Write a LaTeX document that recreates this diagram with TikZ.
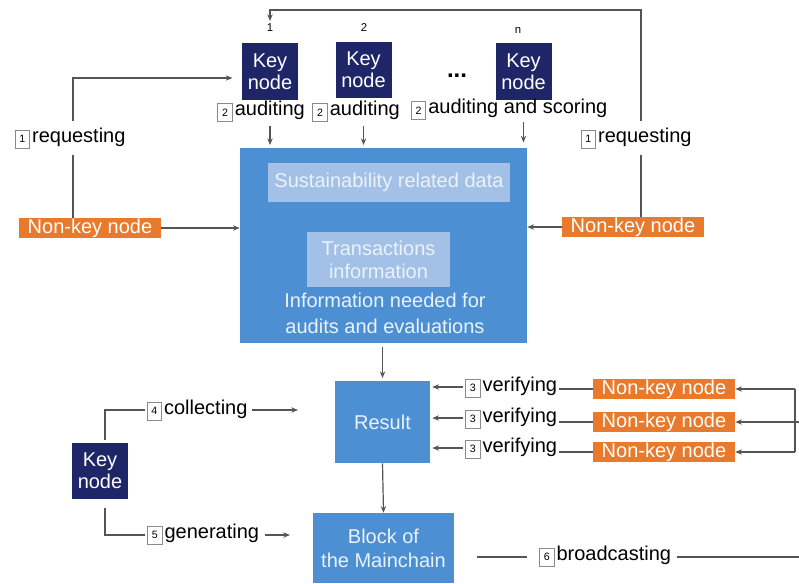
\documentclass[tikz,border=0pt]{standalone}
\usepackage{fontspec}
\setmainfont{Liberation Sans}
\usetikzlibrary{arrows.meta,calc}
\definecolor{navy}{HTML}{1E2668}
\definecolor{orng}{HTML}{E97A2C}
\definecolor{bblue}{HTML}{4C8FD3}
\definecolor{lightb}{HTML}{A3C1E6}
\definecolor{lighttext}{HTML}{EAF2FB}
\definecolor{linegray}{HTML}{555555}
\definecolor{boxgray}{HTML}{8A8A8A}
\newcommand\nbox[1]{\raisebox{-1.5pt}{\setlength{\fboxsep}{0pt}\setlength{\fboxrule}{0.6pt}\fcolorbox{boxgray}{white}{\parbox[c][12.5pt][c]{10.5pt}{\centering\fontsize{8}{9}\selectfont #1}}}\hspace{1.5pt}}
\begin{document}
\begin{tikzpicture}[x=0.75pt,y=-0.75pt,
  ln/.style={draw=linegray, line width=0.9pt},
  arr/.style={ln, -{Stealth[length=5pt,width=4pt]}},
  keynode/.style={fill=navy, text=white, font=\fontsize{15}{16.5}\selectfont, align=center, minimum width=42pt, minimum height=42.5pt, inner sep=0pt},
  nonkey/.style={fill=orng, text=white, font=\fontsize{15}{15}\selectfont, minimum width=106.5pt, minimum height=15pt, inner sep=0pt},
  bluebox/.style={fill=bblue, text=lighttext, align=center, inner sep=0pt},
  innerbox/.style={fill=lightb, text=lighttext, align=center, inner sep=0pt},
  lbl/.style={font=\fontsize{15}{15}\selectfont, inner sep=1pt, text=black},
  tinynum/.style={font=\fontsize{8.5}{8.5}\selectfont, inner sep=0pt}
]
\useasboundingbox (0,0) rectangle (799,583);

% top key nodes
\node[keynode] (kn1) at (270,71.5) {Key\\node};
\node[keynode] (kn2) at (363.5,70) {Key\\node};
\node[keynode] (knn) at (523.5,71.5) {Key\\node};
\node[tinynum] (n1) at (270,28) {1};
\node[tinynum] (n2) at (364,28) {2};
\node[tinynum] (nn) at (518,30) {n};
\node[font=\fontsize{18}{18}\selectfont\bfseries, inner sep=0pt] (dots) at (457,76) {...};

% auditing labels
\node[lbl] (aud1) at (261,111) {\nbox{2}auditing};
\node[lbl] (aud2) at (356,111) {\nbox{2}auditing};
\node[lbl] (aud3) at (509,109) {\nbox{2}auditing and scoring};

% big box
\node[bluebox, minimum width=215.25pt, minimum height=146.25pt] (big) at (383.5,245.5) {};
\node[innerbox, minimum width=181.5pt, minimum height=29.25pt, font=\fontsize{15}{15}\selectfont] (sus) at (389,182.5) {Sustainability related data};
\node[innerbox, minimum width=107.25pt, minimum height=41.25pt, font=\fontsize{15}{17.25}\selectfont] (trans) at (378.5,259.5) {Transactions\\information};
\node[text=lighttext, align=center, inner sep=0pt, font=\fontsize{15}{19.5}\selectfont] (info) at (385,313) {Information needed for\\audits and evaluations};

% side non-key nodes
\node[nonkey] (nkl) at (90,228) {Non-key node};
\node[nonkey] (nkr) at (633,227) {Non-key node};
\node[lbl] (reqL) at (70,138) {\nbox{1}requesting};
\node[lbl] (reqR) at (636,138) {\nbox{1}requesting};

% result and block
\node[bluebox, minimum width=71.25pt, minimum height=61.5pt, font=\fontsize{15}{15}\selectfont] (res) at (382.5,422) {Result};
\node[bluebox, minimum width=105.75pt, minimum height=52.5pt, font=\fontsize{15}{18}\selectfont] (blk) at (383.5,548) {Block of\\the Mainchain};

% verifying rows
\node[nonkey] (nka) at (664,389) {Non-key node};
\node[nonkey] (nkb) at (664,422) {Non-key node};
\node[nonkey] (nkc) at (664,452) {Non-key node};
\node[lbl] (ver1) at (511,387) {\nbox{3}verifying};
\node[lbl] (ver2) at (511,418) {\nbox{3}verifying};
\node[lbl] (ver3) at (511,448) {\nbox{3}verifying};

% bottom-left key node
\node[keynode] (kn4) at (100,471) {Key\\node};
\node[lbl] (col) at (197,410) {\nbox{4}collecting};
\node[lbl] (gen) at (203,534) {\nbox{5}generating};
\node[lbl] (brd) at (605,556) {\nbox{6}broadcasting};

% coordinates
\coordinate (l1) at (73,78);
\coordinate (t1) at (641,10);
\coordinate (t2) at (270,10);
\coordinate (t3) at (270,21);
\coordinate (b1) at (105,410);
\coordinate (b2) at (105,535);
\coordinate (colend) at (298,410);
\coordinate (genend) at (290,535);
\coordinate (rx) at (795,389);
\coordinate (ry) at (795,452);
\coordinate (redge) at (799,422);
\coordinate (bs) at (477,557);
\coordinate (be) at (527,557);
\coordinate (bend) at (799,557);

% left requesting loop
\draw[ln] (nkl.north -| l1) -- ([yshift=-4pt]reqL.south -| l1);
\draw[arr] ([yshift=4pt]reqL.north -| l1) -- (l1) -- ([xshift=-7pt]kn1.west |- l1);
\draw[arr] (nkl.east) -- (big.west |- nkl);

% right requesting loop
\draw[ln] (nkr.north -| t1) -- ([yshift=-4pt]reqR.south -| t1);
\draw[arr] ([yshift=4pt]reqR.north -| t1) -- (t1) -- (t2) -- (t3);
\draw[arr] (nkr.west) -- (big.east |- nkr);

% auditing arrows
\draw[arr] ([yshift=-2pt]aud1.south -| kn1) -- ([yshift=2pt]big.north -| kn1);
\draw[arr] ([yshift=-2pt]aud2.south -| kn2) -- ([yshift=2pt]big.north -| kn2);
\draw[arr] ([yshift=-1pt]aud3.south -| knn) -- ([yshift=4pt]big.north -| knn);

% flow down
\draw[arr] ([yshift=-3pt]big.south -| res) -- ([yshift=2pt]res.north);
\draw[arr] (res.south) -- (blk.north);

% verifying
\draw[arr] (ver1.west) -- ([xshift=1.5pt]res.east |- ver1);
\draw[arr] (ver2.west) -- ([xshift=1.5pt]res.east |- ver2);
\draw[arr] (ver3.west) -- ([xshift=1.5pt]res.east |- ver3);
\draw[ln] (nka.west) -- (ver1.east |- nka);
\draw[ln] (nkb.west) -- (ver2.east |- nkb);
\draw[ln] (nkc.west) -- (ver3.east |- nkc);
\draw[arr] (rx) -- (nka.east);
\draw[arr] (ry) -- (nkc.east);
\draw[ln] (rx) -- (ry);
\draw[arr] (redge) -- (nkb.east);

% bottom-left
\draw[ln] ([yshift=2pt]kn4.north -| b1) -- (b1) -- (col.west);
\draw[arr] ([xshift=2pt]col.east) -- (colend);
\draw[ln] ([yshift=-6pt]kn4.south -| b2) -- (b2) -- (gen.west |- b2);
\draw[arr] ([xshift=3pt]gen.east |- genend) -- (genend);

% broadcasting
\draw[ln] (bs) -- (be);
\draw[ln] ([xshift=3pt]brd.east |- bend) -- (bend);
\end{tikzpicture}
\end{document}
